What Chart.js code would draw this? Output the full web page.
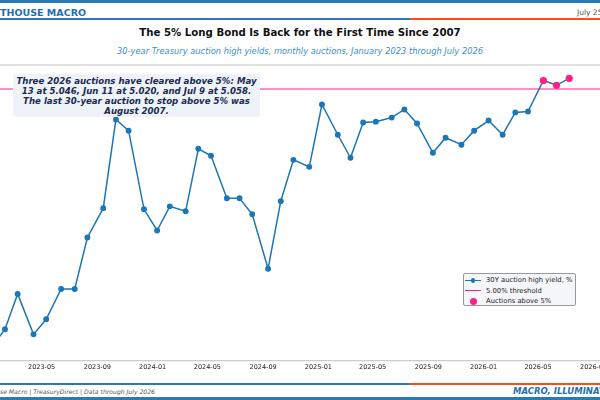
<!DOCTYPE html>
<html>
<head>
<meta charset="utf-8">
<script src="https://cdn.jsdelivr.net/npm/chart.js@4.4.1/dist/chart.umd.min.js"></script>
<style>
  html, body { margin: 0; padding: 0; }
  body { width: 600px; height: 400px; overflow: hidden; position: relative; background: #fff; font-family: 'DejaVu Sans', sans-serif; }
  .bar { position: absolute; left: 0; width: 600px; height: 3px; background: #2a7ab6; }
  .rule { position: absolute; left: 0; width: 600px; height: 2px; background: linear-gradient(to right, #2a7ab6 0, #2a7ab6 410px, #ff4d1a 410px); }
  .brand { position: absolute; left: 0; top: 7px; font-size: 9.5px; font-weight: bold; color: #1f6fae; white-space: nowrap; }
  .date { position: absolute; left: 577px; top: 8px; font-size: 7.5px; color: #555; white-space: nowrap; }
  .title { position: absolute; left: 0; top: 27px; width: 600px; text-align: center; font-size: 10.2px; font-weight: bold; color: #111; }
  .subtitle { position: absolute; left: 0; top: 46px; width: 600px; text-align: center; font-size: 8.3px; font-style: italic; color: #3d8fc6; }
  .foot { position: absolute; left: 0; top: 388px; font-size: 6.1px; font-style: italic; color: #555; white-space: nowrap; }
  .tag { position: absolute; left: 513px; top: 386px; font-size: 8.5px; font-weight: bold; font-style: italic; color: #1f6fae; white-space: nowrap; }
  #wrap { position: absolute; left: -50px; top: 55px; width: 700px; height: 320px; }
  .note { position: absolute; left: 13px; top: 74px; width: 247px; height: 43px; background: #eef3f8; border-radius: 3px;
          text-align: center; font-size: 8.6px; line-height: 10px; font-weight: bold; font-style: italic; color: #1b2a4e;
          padding-top: 2px; box-sizing: border-box; }
  #legend { position: absolute; left: 463px; top: 273px; width: 113px; height: 33px; background: #f4f6f9; border: 1px solid #999;
            border-radius: 2px; box-sizing: border-box; font-size: 6.8px; color: #222; padding-top: 1px; }
  #legend .item { height: 10.4px; display: flex; align-items: center; }
  #legend .sw { width: 16px; height: 8px; margin: 0 5px 0 1px; position: relative; }
  #legend .ln { position: absolute; left: 0; right: 0; top: 3.5px; height: 1.3px; }
  #legend .dot { position: absolute; border-radius: 50%; }
</style>
</head>
<body>
<div class="bar" style="top:0"></div>
<div class="brand">THOUSE MACRO</div>
<div class="date">July 25</div>
<div class="rule" style="top:18px"></div>
<div class="title">The 5% Long Bond Is Back for the First Time Since 2007</div>
<div class="subtitle">30-year Treasury auction high yields, monthly auctions, January 2023 through July 2026</div>

<div id="wrap"><canvas id="myChart"></canvas></div>

<div class="note">Three 2026 auctions have cleared above 5%: May<br>13 at 5.046, Jun 11 at 5.020, and Jul 9 at 5.058.<br>The last 30-year auction to stop above 5% was<br>August 2007.</div>
<div id="legend"></div>

<div class="rule" style="top:383px"></div>
<div class="foot">se Macro | TreasuryDirect | Data through July 2026</div>
<div class="tag">MACRO, ILLUMINATED</div>
<div class="bar" style="top:397px"></div>

<script>
const auctionDates = [
    '2023-01-12', '2023-02-09', '2023-03-09', '2023-04-13', '2023-05-11', '2023-06-13',
    '2023-07-13', '2023-08-10', '2023-09-14', '2023-10-12', '2023-11-09', '2023-12-13',
    '2024-01-11', '2024-02-08', '2024-03-14', '2024-04-11', '2024-05-09', '2024-06-13',
    '2024-07-11', '2024-08-08', '2024-09-12', '2024-10-10', '2024-11-07', '2024-12-12',
    '2025-01-09', '2025-02-13', '2025-03-13', '2025-04-10', '2025-05-08', '2025-06-12',
    '2025-07-10', '2025-08-07', '2025-09-11', '2025-10-09', '2025-11-13', '2025-12-11',
    '2026-01-12', '2026-02-12', '2026-03-12', '2026-04-09', '2026-05-13', '2026-06-11',
    '2026-07-09',
];
const highYields = [
    3.605, 3.698, 3.889, 3.670, 3.752, 3.916,
    3.916, 4.195, 4.354, 4.835, 4.774, 4.348,
    4.233, 4.364, 4.337, 4.676, 4.638, 4.408,
    4.408, 4.321, 4.026, 4.392, 4.616, 4.578,
    4.916, 4.752, 4.627, 4.818, 4.823, 4.845,
    4.889, 4.813, 4.654, 4.736, 4.698, 4.774,
    4.829, 4.752, 4.873, 4.878, 5.046, 5.020,
    5.058,
];
const tickLabels = ['2023-05', '2023-09', '2024-01', '2024-05', '2024-09', '2025-01',
    '2025-05', '2025-09', '2026-01', '2026-05', '2026-09'];
const threshold = 5.00;
const xStart = '2023-01-29';
const xEnd = '2026-09-15';

const BLUE = '#1c77b4';
const PINK = '#ff1f8a';

// dates -> day numbers for the linear x axis
const day = (s) => Date.parse(s + 'T00:00:00Z') / 86400000;
const tickNames = {};
tickLabels.forEach((l) => { tickNames[day(l + '-01')] = l; });

const series = auctionDates.map((d, i) => ({ x: day(d), y: highYields[i] }));
const above = series.filter((p) => p.y > threshold);

const topBorder = {
    id: 'topBorder',
    afterDraw(chart) {
        const { ctx, chartArea } = chart;
        ctx.save();
        ctx.strokeStyle = '#d6d6d6';
        ctx.lineWidth = 1.5;
        ctx.beginPath();
        ctx.moveTo(chartArea.left, chartArea.top);
        ctx.lineTo(chartArea.right, chartArea.top);
        ctx.stroke();
        ctx.restore();
    }
};

const data = {
    datasets: [{
        label: '30Y auction high yield, %',
        data: series,
        borderColor: BLUE,
        backgroundColor: BLUE,
        borderWidth: 1.5,
        pointRadius: 2.2,
        pointHoverRadius: 2.2,
        tension: 0,
        order: 1,
    }, {
        label: threshold.toFixed(2) + '% threshold',
        data: [{ x: day(xStart), y: threshold }, { x: day(xEnd), y: threshold }],
        borderColor: PINK,
        backgroundColor: PINK,
        borderWidth: 1.2,
        pointRadius: 0,
        order: 2,
    }, {
        label: 'Auctions above 5%',
        data: above,
        showLine: false,
        borderColor: PINK,
        backgroundColor: PINK,
        borderWidth: 0,
        pointRadius: 3.6,
        pointHoverRadius: 3.6,
        order: 0,
    }]
};

const config = {
    type: 'line',
    data: data,
    options: {
        responsive: true,
        maintainAspectRatio: false,
        animation: false,
        layout: { padding: { left: 50, right: 50, top: 10, bottom: 1 } },
        plugins: { legend: { display: false }, tooltip: { enabled: false } },
        scales: {
            x: {
                type: 'linear',
                min: day(xStart),
                max: day(xEnd),
                grid: { display: false, drawTicks: false },
                border: { display: true, color: '#cccccc', width: 1.2 },
                afterBuildTicks: (scale) => {
                    scale.ticks = tickLabels.map((l) => ({ value: day(l + '-01') }));
                },
                ticks: {
                    autoSkip: false,
                    maxRotation: 0,
                    padding: 3,
                    color: '#222',
                    font: { family: 'DejaVu Sans', size: 6.5 },
                    callback: (v) => tickNames[v] || '',
                },
            },
            y: {
                display: false,
                min: 3.53,
                max: 5.13,
            }
        }
    },
    plugins: [topBorder]
};

const chart = new Chart(document.getElementById('myChart'), config);

// legend drawn as html from the chart's datasets
const legend = document.getElementById('legend');
chart.data.datasets.forEach((ds) => {
    const item = document.createElement('div');
    item.className = 'item';
    const sw = document.createElement('span');
    sw.className = 'sw';
    if (ds.showLine !== false) {
        const ln = document.createElement('span');
        ln.className = 'ln';
        ln.style.background = ds.borderColor;
        sw.appendChild(ln);
    }
    if (ds.pointRadius > 0) {
        const r = ds.showLine === false ? 3.5 : 2.2;
        const dot = document.createElement('span');
        dot.className = 'dot';
        dot.style.background = ds.backgroundColor;
        dot.style.width = dot.style.height = (2 * r) + 'px';
        dot.style.left = (8 - r) + 'px';
        dot.style.top = (4.15 - r) + 'px';
        sw.appendChild(dot);
    }
    item.appendChild(sw);
    item.appendChild(document.createTextNode(ds.label));
    legend.appendChild(item);
});
</script>
</body>
</html>
